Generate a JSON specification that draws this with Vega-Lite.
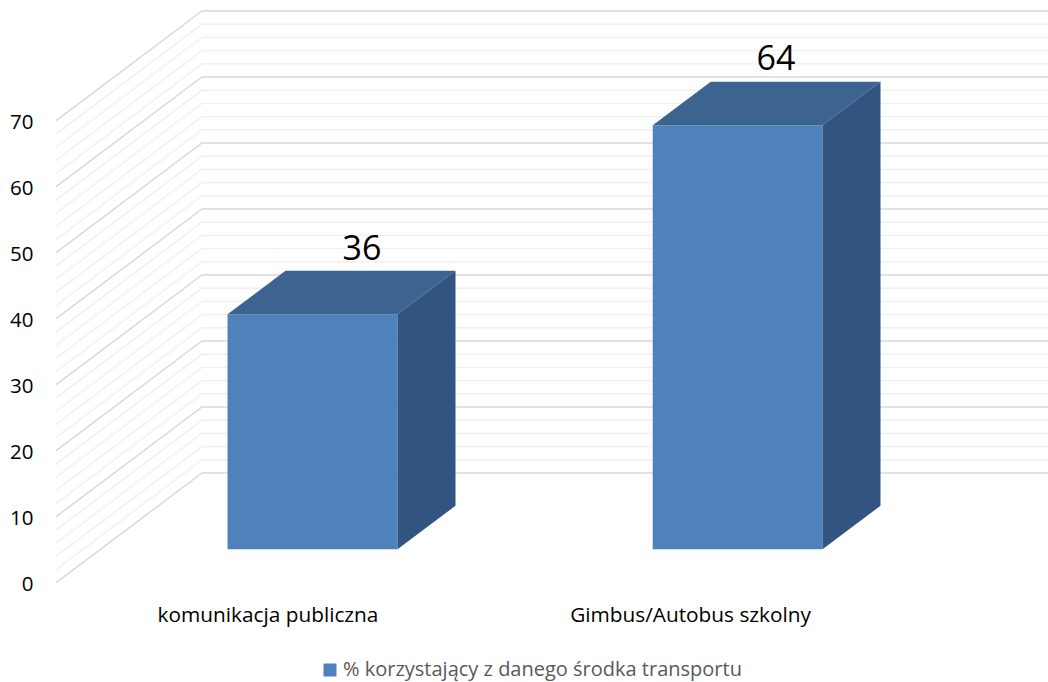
{"$schema":"https://vega.github.io/schema/vega-lite/v6.json","width":1048,"height":682,"padding":0,"autosize":{"type":"none"},"background":"white","config":{"view":{"stroke":null},"font":"Open Sans"},
"datasets":{
"grid":[
{"l":0,"k":"major","x":0,"y":0},{"l":0,"k":"major","x":0.3435,"y":16.62},{"l":0,"k":"major","x":2.3341,"y":16.62},
{"l":2,"k":"minor","x":0,"y":2},{"l":2,"k":"minor","x":0.3435,"y":18.62},{"l":2,"k":"minor","x":2.3341,"y":18.62},
{"l":4,"k":"minor","x":0,"y":4},{"l":4,"k":"minor","x":0.3435,"y":20.62},{"l":4,"k":"minor","x":2.3341,"y":20.62},
{"l":6,"k":"minor","x":0,"y":6},{"l":6,"k":"minor","x":0.3435,"y":22.62},{"l":6,"k":"minor","x":2.3341,"y":22.62},
{"l":8,"k":"minor","x":0,"y":8},{"l":8,"k":"minor","x":0.3435,"y":24.62},{"l":8,"k":"minor","x":2.3341,"y":24.62},
{"l":10,"k":"major","x":0,"y":10},{"l":10,"k":"major","x":0.3435,"y":26.62},{"l":10,"k":"major","x":2.3341,"y":26.62},
{"l":12,"k":"minor","x":0,"y":12},{"l":12,"k":"minor","x":0.3435,"y":28.62},{"l":12,"k":"minor","x":2.3341,"y":28.62},
{"l":14,"k":"minor","x":0,"y":14},{"l":14,"k":"minor","x":0.3435,"y":30.62},{"l":14,"k":"minor","x":2.3341,"y":30.62},
{"l":16,"k":"minor","x":0,"y":16},{"l":16,"k":"minor","x":0.3435,"y":32.62},{"l":16,"k":"minor","x":2.3341,"y":32.62},
{"l":18,"k":"minor","x":0,"y":18},{"l":18,"k":"minor","x":0.3435,"y":34.62},{"l":18,"k":"minor","x":2.3341,"y":34.62},
{"l":20,"k":"major","x":0,"y":20},{"l":20,"k":"major","x":0.3435,"y":36.62},{"l":20,"k":"major","x":2.3341,"y":36.62},
{"l":22,"k":"minor","x":0,"y":22},{"l":22,"k":"minor","x":0.3435,"y":38.62},{"l":22,"k":"minor","x":2.3341,"y":38.62},
{"l":24,"k":"minor","x":0,"y":24},{"l":24,"k":"minor","x":0.3435,"y":40.62},{"l":24,"k":"minor","x":2.3341,"y":40.62},
{"l":26,"k":"minor","x":0,"y":26},{"l":26,"k":"minor","x":0.3435,"y":42.62},{"l":26,"k":"minor","x":2.3341,"y":42.62},
{"l":28,"k":"minor","x":0,"y":28},{"l":28,"k":"minor","x":0.3435,"y":44.62},{"l":28,"k":"minor","x":2.3341,"y":44.62},
{"l":30,"k":"major","x":0,"y":30},{"l":30,"k":"major","x":0.3435,"y":46.62},{"l":30,"k":"major","x":2.3341,"y":46.62},
{"l":32,"k":"minor","x":0,"y":32},{"l":32,"k":"minor","x":0.3435,"y":48.62},{"l":32,"k":"minor","x":2.3341,"y":48.62},
{"l":34,"k":"minor","x":0,"y":34},{"l":34,"k":"minor","x":0.3435,"y":50.62},{"l":34,"k":"minor","x":2.3341,"y":50.62},
{"l":36,"k":"minor","x":0,"y":36},{"l":36,"k":"minor","x":0.3435,"y":52.62},{"l":36,"k":"minor","x":2.3341,"y":52.62},
{"l":38,"k":"minor","x":0,"y":38},{"l":38,"k":"minor","x":0.3435,"y":54.62},{"l":38,"k":"minor","x":2.3341,"y":54.62},
{"l":40,"k":"major","x":0,"y":40},{"l":40,"k":"major","x":0.3435,"y":56.62},{"l":40,"k":"major","x":2.3341,"y":56.62},
{"l":42,"k":"minor","x":0,"y":42},{"l":42,"k":"minor","x":0.3435,"y":58.62},{"l":42,"k":"minor","x":2.3341,"y":58.62},
{"l":44,"k":"minor","x":0,"y":44},{"l":44,"k":"minor","x":0.3435,"y":60.62},{"l":44,"k":"minor","x":2.3341,"y":60.62},
{"l":46,"k":"minor","x":0,"y":46},{"l":46,"k":"minor","x":0.3435,"y":62.62},{"l":46,"k":"minor","x":2.3341,"y":62.62},
{"l":48,"k":"minor","x":0,"y":48},{"l":48,"k":"minor","x":0.3435,"y":64.62},{"l":48,"k":"minor","x":2.3341,"y":64.62},
{"l":50,"k":"major","x":0,"y":50},{"l":50,"k":"major","x":0.3435,"y":66.62},{"l":50,"k":"major","x":2.3341,"y":66.62},
{"l":52,"k":"minor","x":0,"y":52},{"l":52,"k":"minor","x":0.3435,"y":68.62},{"l":52,"k":"minor","x":2.3341,"y":68.62},
{"l":54,"k":"minor","x":0,"y":54},{"l":54,"k":"minor","x":0.3435,"y":70.62},{"l":54,"k":"minor","x":2.3341,"y":70.62},
{"l":56,"k":"minor","x":0,"y":56},{"l":56,"k":"minor","x":0.3435,"y":72.62},{"l":56,"k":"minor","x":2.3341,"y":72.62},
{"l":58,"k":"minor","x":0,"y":58},{"l":58,"k":"minor","x":0.3435,"y":74.62},{"l":58,"k":"minor","x":2.3341,"y":74.62},
{"l":60,"k":"major","x":0,"y":60},{"l":60,"k":"major","x":0.3435,"y":76.62},{"l":60,"k":"major","x":2.3341,"y":76.62},
{"l":62,"k":"minor","x":0,"y":62},{"l":62,"k":"minor","x":0.3435,"y":78.62},{"l":62,"k":"minor","x":2.3341,"y":78.62},
{"l":64,"k":"minor","x":0,"y":64},{"l":64,"k":"minor","x":0.3435,"y":80.62},{"l":64,"k":"minor","x":2.3341,"y":80.62},
{"l":66,"k":"minor","x":0,"y":66},{"l":66,"k":"minor","x":0.3435,"y":82.62},{"l":66,"k":"minor","x":2.3341,"y":82.62},
{"l":68,"k":"minor","x":0,"y":68},{"l":68,"k":"minor","x":0.3435,"y":84.62},{"l":68,"k":"minor","x":2.3341,"y":84.62},
{"l":70,"k":"major","x":0,"y":70},{"l":70,"k":"major","x":0.3435,"y":86.62},{"l":70,"k":"major","x":2.3341,"y":86.62}
],
"front":[
{"cat":"komunikacja publiczna","series":"% korzystający z danego środka transportu","x":0.4035,"x2":0.8035,"base":5.06,"top":40.66,"value":36,"lx":0.72,"ly":50.4,"cx":0.4988,"cy":-5.05},
{"cat":"Gimbus/Autobus szkolny","series":"% korzystający z danego środka transportu","x":1.404,"x2":1.8035,"base":5.06,"top":69.3,"value":64,"lx":1.694,"ly":79.2,"cx":1.493,"cy":-5.05}
],
"topFace":[
{"cat":"a","x":0.4035,"y":40.66,"y2":40.66},{"cat":"a","x":0.54,"y":47.26,"y2":40.66},{"cat":"a","x":0.8035,"y":47.26,"y2":40.66},{"cat":"a","x":0.94,"y":47.26,"y2":47.26},
{"cat":"b","x":1.404,"y":69.3,"y2":69.3},{"cat":"b","x":1.5405,"y":75.9,"y2":69.3},{"cat":"b","x":1.8035,"y":75.9,"y2":69.3},{"cat":"b","x":1.94,"y":75.9,"y2":75.9}
],
"sideFace":[
{"cat":"a","x":0.8035,"y":40.66,"y2":5.06},{"cat":"a","x":0.94,"y":47.26,"y2":11.66},
{"cat":"b","x":1.8035,"y":69.3,"y2":5.06},{"cat":"b","x":1.94,"y":75.9,"y2":11.66}
]},
"layer":[
{"data":{"name":"grid"},"transform":[{"filter":"datum.k==='minor'"}],"mark":{"type":"line","color":"#f0f0f0","strokeWidth":1.4},
"encoding":{"x":{"field":"x","type":"quantitative","scale":{"domain":[-0.1318,2.3341],"nice":false,"zero":false},"axis":null},
"y":{"field":"y","type":"quantitative","scale":{"domain":[-15.05,88.29],"nice":false,"zero":false},"axis":{"values":[0,10,20,30,40,50,60,70],"orient":"left","offset":-37,"title":null,"grid":false,"domain":false,"ticks":false,"labelPadding":4,"labelOffset":2,"labelFontSize":20.5,"labelColor":"#000000","labelFont":"Open Sans"}},"detail":{"field":"l"}}},
{"data":{"name":"grid"},"transform":[{"filter":"datum.k==='major'"}],"mark":{"type":"line","color":"#d9d9d9","strokeWidth":1.5},
"encoding":{"x":{"field":"x","type":"quantitative"},"y":{"field":"y","type":"quantitative"},"detail":{"field":"l"}}},
{"data":{"name":"front"},"mark":{"type":"rect"},
"encoding":{"x":{"field":"x","type":"quantitative"},"x2":{"field":"x2"},"y":{"field":"top","type":"quantitative"},"y2":{"field":"base"},
"color":{"field":"series","type":"nominal","scale":{"range":["#4f81bd"]},"legend":{"title":null,"orient":"none","legendX":320,"legendY":660,"symbolType":"square","symbolSize":169,"symbolStrokeWidth":0,"labelFontSize":20,"labelColor":"#595959","labelFont":"Open Sans","labelLimit":600,"labelOffset":3}}}},
{"data":{"name":"topFace"},"mark":{"type":"area","color":"#3d6391"},
"encoding":{"x":{"field":"x","type":"quantitative"},"y":{"field":"y","type":"quantitative"},"y2":{"field":"y2"},"detail":{"field":"cat"}}},
{"data":{"name":"sideFace"},"mark":{"type":"area","color":"#325480"},
"encoding":{"x":{"field":"x","type":"quantitative"},"y":{"field":"y","type":"quantitative"},"y2":{"field":"y2"},"detail":{"field":"cat"}}},
{"data":{"name":"front"},"mark":{"type":"text","fontSize":34,"color":"#000000","baseline":"middle","align":"center","font":"Open Sans"},
"encoding":{"x":{"field":"lx","type":"quantitative"},"y":{"field":"ly","type":"quantitative"},"text":{"field":"value","type":"quantitative"}}},
{"data":{"name":"front"},"mark":{"type":"text","fontSize":20.8,"color":"#000000","baseline":"middle","align":"center","font":"Open Sans"},
"encoding":{"x":{"field":"cx","type":"quantitative"},"y":{"field":"cy","type":"quantitative"},"text":{"field":"cat","type":"nominal"}}}
]}
